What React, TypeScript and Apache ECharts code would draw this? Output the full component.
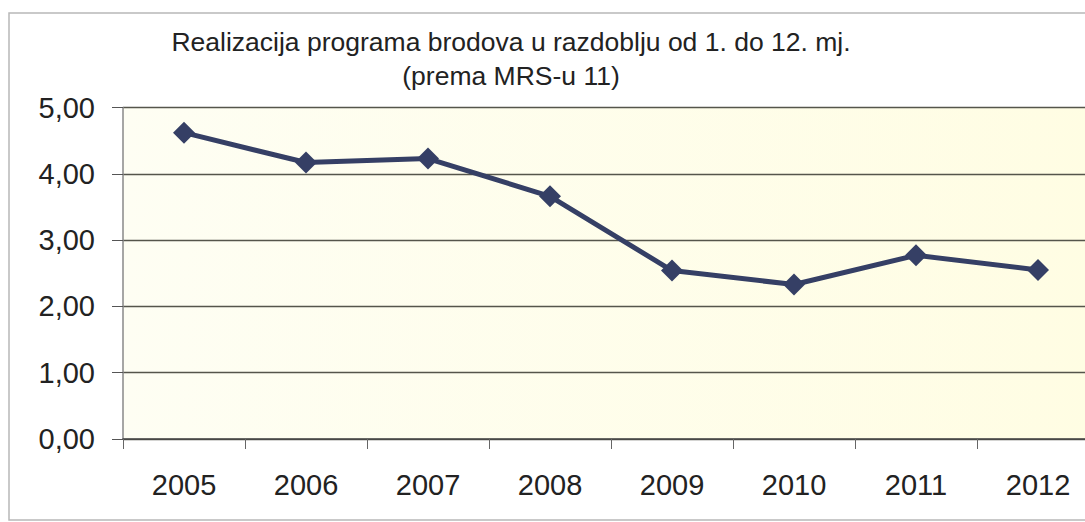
import React, { useEffect, useRef } from "react";
import * as echarts from "echarts";

const titleLines = [
  "Realizacija programa brodova u razdoblju od 1. do 12. mj.",
  "(prema MRS-u 11)",
];
const years = ["2005", "2006", "2007", "2008", "2009", "2010", "2011", "2012"];
const values = [4.62, 4.17, 4.23, 3.66, 2.54, 2.33, 2.77, 2.55];
const yTicks = { min: 0, max: 5, interval: 1 };

export default function App() {
  const ref = useRef<HTMLDivElement>(null);
  useEffect(() => {
    if (!ref.current) return;
    const chart = echarts.init(ref.current, null, { renderer: "svg" });
    const font = "'Liberation Sans', Arial, sans-serif";
    chart.setOption({
      animation: false,
      backgroundColor: "#ffffff",
      title: {
        text: titleLines.join("\n"),
        left: 506,
        textAlign: "center",
        top: 20,
        textStyle: {
          fontFamily: font,
          fontSize: 26.5,
          fontWeight: "normal",
          color: "#222222",
          lineHeight: 34,
        },
      },
      graphic: [
        {
          type: "rect",
          shape: { x: 9, y: 13, width: 1120, height: 507 },
          style: { fill: "none", stroke: "#b8b8b8", lineWidth: 1.5 },
          z: -1,
        },
      ],
      grid: {
        left: 123,
        top: 107.5,
        bottom: 83,
        right: 1,
        show: true,
        borderWidth: 0,
        backgroundColor: new echarts.graphic.LinearGradient(0, 0, 1, 0, [
          { offset: 0, color: "#fefef3" },
          { offset: 1, color: "#fffde3" },
        ]),
      },
      xAxis: {
        type: "category",
        data: years,
        boundaryGap: true,
        axisLine: { show: true, lineStyle: { color: "#444444", width: 1.5 } },
        axisTick: { show: true, length: 10, lineStyle: { color: "#666666" } },
        axisLabel: {
          fontFamily: font,
          fontSize: 29,
          color: "#222222",
          margin: 31,
        },
        splitLine: { show: false },
      },
      yAxis: {
        type: "value",
        min: yTicks.min,
        max: yTicks.max,
        interval: yTicks.interval,
        axisLine: { show: true, lineStyle: { color: "#888888", width: 1.5 } },
        axisTick: { show: true, length: 11, lineStyle: { color: "#555555" } },
        axisLabel: {
          fontFamily: font,
          fontSize: 29,
          color: "#222222",
          margin: 28,
          formatter: (v: number) => v.toFixed(2).replace(".", ","),
        },
        splitLine: { show: true, lineStyle: { color: "#55554b", width: 1.3 } },
      },
      series: [
        {
          type: "line",
          data: values,
          symbol: "diamond",
          symbolSize: 22,
          lineStyle: { color: "#353f65", width: 5 },
          itemStyle: { color: "#353f65" },
        },
      ],
    });
    return () => chart.dispose();
  }, []);
  return (
    <div
      style={{
        position: "absolute",
        left: 0,
        top: 0,
        width: 1085,
        height: 522,
        overflow: "hidden",
      }}
    >
      <div ref={ref} style={{ width: 1100, height: 522 }} />
    </div>
  );
}
